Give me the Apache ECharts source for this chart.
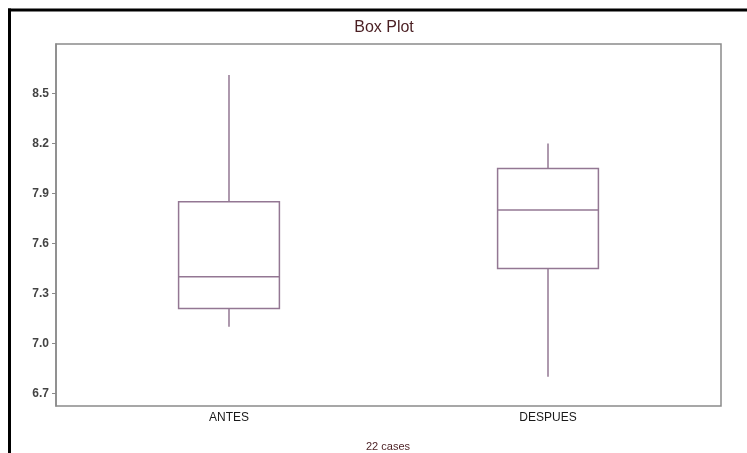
<!DOCTYPE html>
<html>
<head>
<meta charset="utf-8">
<script src="https://cdn.jsdelivr.net/npm/echarts@6/dist/echarts.min.js"></script>
<style>html,body{margin:0;padding:0;background:#fff;}#c{width:747px;height:453px;}</style>
</head>
<body>
<div id="c"></div>
<script>
// Data
const categories = ['ANTES', 'DESPUES'];
// [min, Q1, median, Q3, max]
const antesStats = [7.10, 7.21, 7.40, 7.85, 8.61];
const despuesStats = [6.80, 7.45, 7.80, 8.05, 8.20];
const yTicks = [6.7, 7.0, 7.3, 7.6, 7.9, 8.2, 8.5];
const titleText = 'Box Plot';
const footText = '22 cases';

const statsList = [antesStats, despuesStats];
const seriesData = statsList.map((s, i) => [i].concat(s));

const chart = echarts.init(document.getElementById('c'), null, {renderer: 'canvas'});
const lineColor = '#937793';
const font = 'Liberation Sans, Arial, sans-serif';

chart.setOption({
  animation: false,
  backgroundColor: '#fff',
  grid: {left: 56, top: 44, width: 665, height: 362, show: true, borderColor: '#8a8a8a', borderWidth: 1.5, backgroundColor: 'transparent'},
  xAxis: {
    type: 'value', min: -0.5423, max: 1.5423,
    splitLine: {show: false},
    axisLine: {show: false, onZero: false},
    axisTick: {show: false},
    axisLabel: {
      customValues: categories.map((c, i) => i),
      formatter: v => categories[Math.round(v)],
      margin: 6, fontFamily: font, fontSize: 12, color: '#1a1a1a'
    }
  },
  yAxis: {
    type: 'value', min: 6.625, max: 8.796,
    splitLine: {show: false},
    axisLine: {show: true, onZero: false, lineStyle: {color: '#8a8a8a', width: 1.5}},
    axisTick: {show: true, customValues: yTicks, length: 4, lineStyle: {color: '#8a8a8a'}},
    axisLabel: {
      customValues: yTicks, formatter: v => v.toFixed(1),
      margin: 7, fontFamily: font, fontSize: 12, fontWeight: 'bold', color: '#444'
    }
  },
  series: [{
    type: 'custom',
    data: seriesData,
    encode: {x: 0, y: [1, 2, 3, 4, 5]},
    renderItem: function (params, api) {
      const x = api.value(0);
      const pMin = api.coord([x, api.value(1)]);
      const pQ1 = api.coord([x, api.value(2)]);
      const pMed = api.coord([x, api.value(3)]);
      const pQ3 = api.coord([x, api.value(4)]);
      const pMax = api.coord([x, api.value(5)]);
      const halfW = api.size([1, 0])[0] * 0.158;
      const cx = pMed[0];
      const style = {stroke: lineColor, lineWidth: 1.5, fill: null};
      return {
        type: 'group',
        children: [
          {type: 'rect', shape: {x: cx - halfW, y: pQ3[1], width: 2 * halfW, height: pQ1[1] - pQ3[1]}, style: {stroke: lineColor, lineWidth: 1.5, fill: 'rgba(0,0,0,0)'}},
          {type: 'line', shape: {x1: cx - halfW, y1: pMed[1], x2: cx + halfW, y2: pMed[1]}, style: style},
          {type: 'line', shape: {x1: cx, y1: pQ3[1], x2: cx, y2: pMax[1]}, style: style},
          {type: 'line', shape: {x1: cx, y1: pQ1[1], x2: cx, y2: pMin[1]}, style: style}
        ]
      };
    }
  }],
  graphic: [
    {type: 'line', shape: {x1: 8, y1: 10, x2: 747, y2: 10}, style: {stroke: '#000', lineWidth: 3}},
    {type: 'line', shape: {x1: 9.5, y1: 8.5, x2: 9.5, y2: 453}, style: {stroke: '#000', lineWidth: 3}},
    {type: 'text', x: 384, y: 28, style: {text: titleText, font: '16px ' + font, fill: '#4a1e22', textAlign: 'center', textVerticalAlign: 'middle'}},
    {type: 'text', x: 388, y: 447, style: {text: footText, font: '11px ' + font, fill: '#4a1e22', textAlign: 'center', textVerticalAlign: 'middle'}}
  ]
});
</script>
</body>
</html>
